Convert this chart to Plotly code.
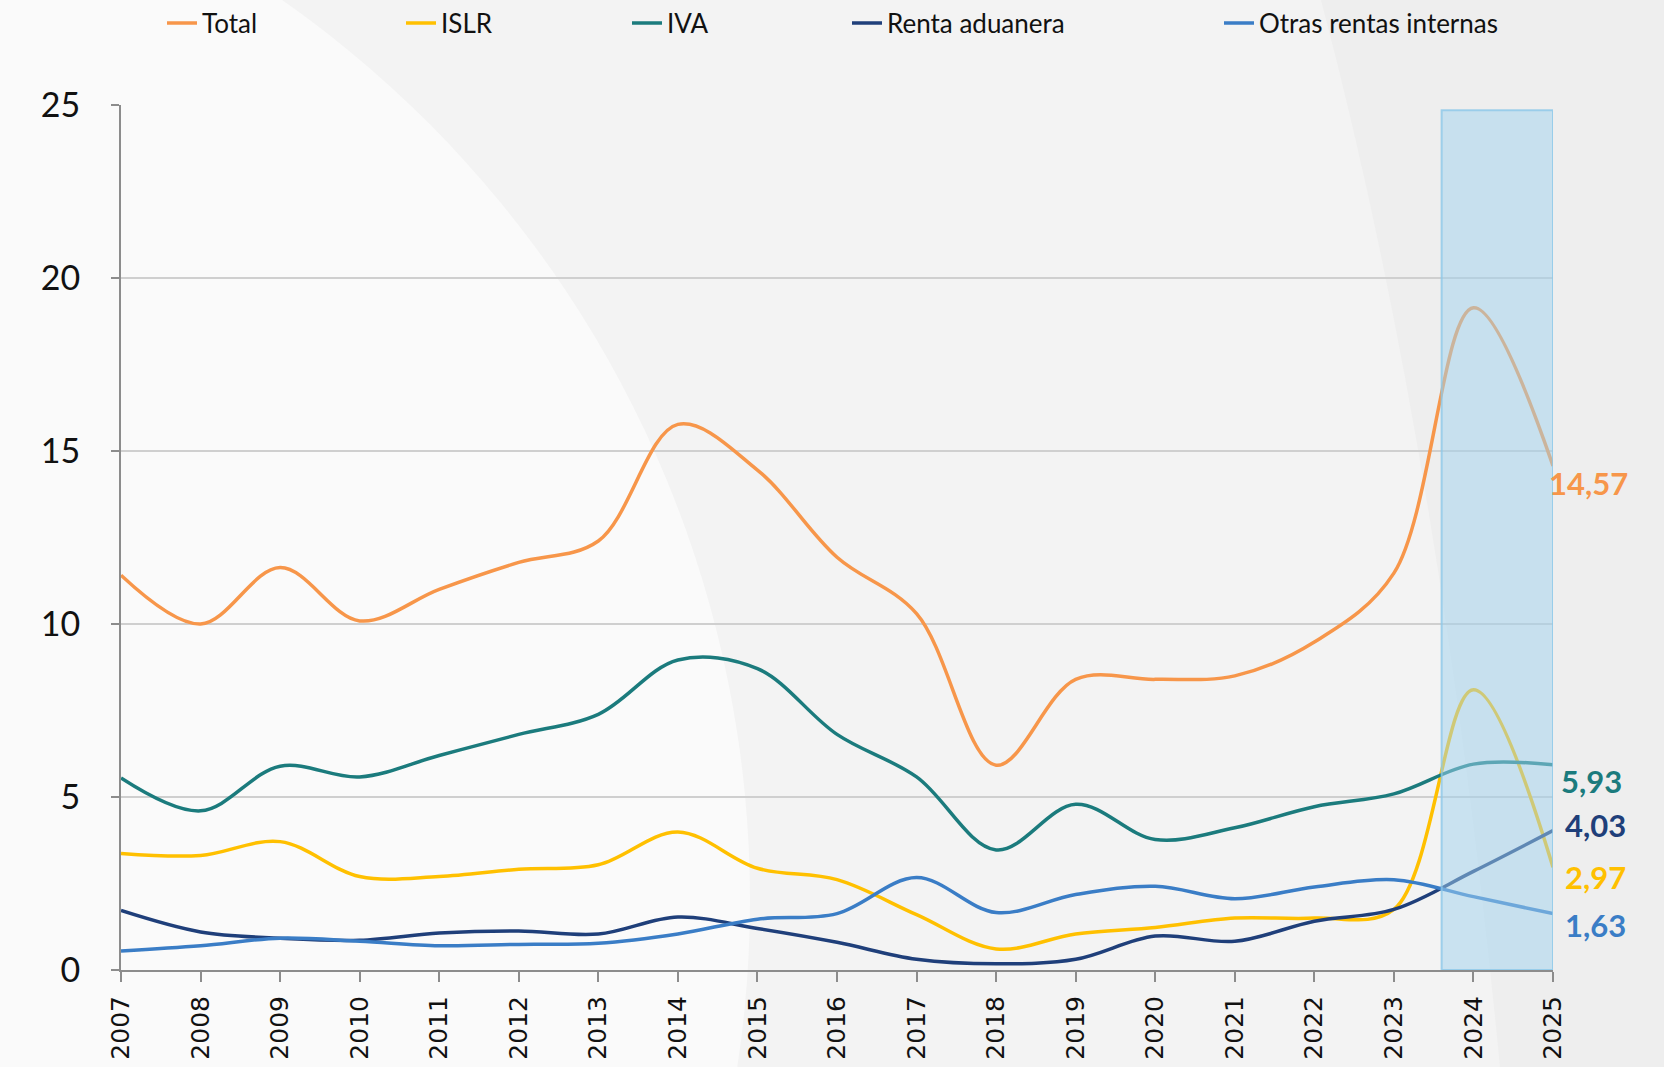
import plotly.graph_objects as go

years = list(range(2007, 2026))

total = [11.41, 10.0, 11.63, 10.09, 11.0, 11.78, 12.4, 15.77, 14.45, 11.93, 10.3, 5.92, 8.4, 8.4, 8.5, 9.48, 11.47, 19.14, 14.57]
islr = [3.37, 3.31, 3.71, 2.7, 2.7, 2.91, 3.04, 3.99, 2.94, 2.61, 1.6, 0.61, 1.04, 1.23, 1.5, 1.5, 1.75, 8.1, 2.97]
iva = [5.55, 4.6, 5.89, 5.58, 6.2, 6.81, 7.39, 8.96, 8.71, 6.81, 5.58, 3.47, 4.79, 3.77, 4.11, 4.72, 5.09, 5.95, 5.93]
renta = [1.72, 1.1, 0.92, 0.86, 1.07, 1.13, 1.04, 1.53, 1.2, 0.8, 0.31, 0.18, 0.31, 0.98, 0.83, 1.41, 1.75, 2.85, 4.03]
otras = [0.55, 0.7, 0.92, 0.83, 0.7, 0.74, 0.77, 1.04, 1.47, 1.63, 2.67, 1.66, 2.18, 2.42, 2.06, 2.4, 2.61, 2.12, 1.63]

names = ["Total", "ISLR", "IVA", "Renta aduanera", "Otras rentas internas"]
series = [total, islr, iva, renta, otras]
colors = ["#F7964A", "#FFC000", "#1B7B7D", "#1F3F7A", "#3A7DC6"]

highlight_start = 2023.6
highlight_end = 2025
yticks = [0, 5, 10, 15, 20, 25]

# layout geometry (pixels)
W, H = 1664, 1067
L, R, T, B = 121, 111, 105, 97
pw, ph = W - L - R, H - T - B


def px(xp):
    return (xp - L) / pw


def py(yp):
    return (H - B - yp) / ph


legend_px = [162, 401, 627, 847, 1219]
label_dx = [-6, 10, 6, 10, 10]
label_dy = [-17, -10, -16, 6, -11]

fig = go.Figure()
legend_ids = ["legend", "legend2", "legend3", "legend4", "legend5"]
for i, (n, s, c) in enumerate(zip(names, series, colors)):
    fig.add_trace(go.Scatter(
        x=years, y=s, name=n, mode="lines",
        line=dict(color=c, width=3.5, shape="spline", smoothing=1.0),
        legend=legend_ids[i],
    ))
    fig.add_annotation(
        x=years[-1], y=s[-1], xref="x", yref="y",
        text="<b>" + f"{s[-1]:.2f}".replace(".", ",") + "</b>",
        showarrow=False, xanchor="left", yanchor="middle",
        xshift=label_dx[i], yshift=label_dy[i],
        font=dict(family="Lato, Open Sans, sans-serif", size=31, color=c),
    )

# background decorations
fig.add_shape(type="circle", xref="paper", yref="paper",
              x0=px(-1441), x1=px(750), y0=py(1998), y1=py(-198),
              fillcolor="#FAFAFA", line=dict(width=0), layer="below")
path = (f"M {px(1321)},{py(0)} Q {px(1440)},{py(450)} {px(1500)},{py(1067)} "
        f"L {px(1664)},{py(1067)} L {px(1664)},{py(0)} Z")
fig.add_shape(type="path", xref="paper", yref="paper", path=path,
              fillcolor="#EEEEEE", line=dict(width=0), layer="below")

# highlight rectangle
fig.add_shape(type="rect", xref="x", yref="y",
              x0=highlight_start, x1=highlight_end, y0=0, y1=24.85,
              fillcolor="rgba(160,210,238,0.5)",
              line=dict(color="rgba(140,200,232,0.8)", width=2), layer="above")

layout_legends = {}
for i, lid in enumerate(legend_ids):
    layout_legends[lid] = dict(
        x=px(legend_px[i]), xanchor="left", y=py(23), yanchor="middle",
        orientation="h", bgcolor="rgba(0,0,0,0)",
        font=dict(family="Lato, Open Sans, sans-serif", size=26, color="#111111"),
        itemwidth=30,
    )

fig.update_layout(
    width=W, height=H,
    margin=dict(l=L, r=R, t=T, b=B, autoexpand=False),
    paper_bgcolor="#F3F3F3",
    plot_bgcolor="rgba(0,0,0,0)",
    showlegend=True,
    **layout_legends,
)

fig.update_xaxes(
    range=[2007, 2025], tickmode="array", tickvals=years,
    ticktext=[str(y) for y in years], tickangle=-90,
    tickfont=dict(family="DejaVu Sans", size=25, color="#111111"),
    showgrid=False, showline=True, linecolor="#8C8C8C", linewidth=2,
    ticks="outside", ticklen=10, tickcolor="#8C8C8C", tickwidth=2,
    ticklabelstandoff=4, zeroline=False, automargin=False,
)
fig.update_yaxes(
    range=[0, 25], tickmode="array", tickvals=yticks,
    ticktext=[str(v) for v in yticks],
    tickfont=dict(family="Lato, Open Sans, sans-serif", size=34, color="#111111"),
    showgrid=True, gridcolor="#CFCFCF", gridwidth=2,
    showline=True, linecolor="#8C8C8C", linewidth=2,
    ticks="outside", ticklen=8, tickcolor="#8C8C8C", tickwidth=2,
    ticklabelstandoff=24, zeroline=False, automargin=False,
)

fig.write_html(
    "out.html",
    config={"displayModeBar": False},
    post_script="document.body.style.margin='0';document.body.style.padding='0';",
)
